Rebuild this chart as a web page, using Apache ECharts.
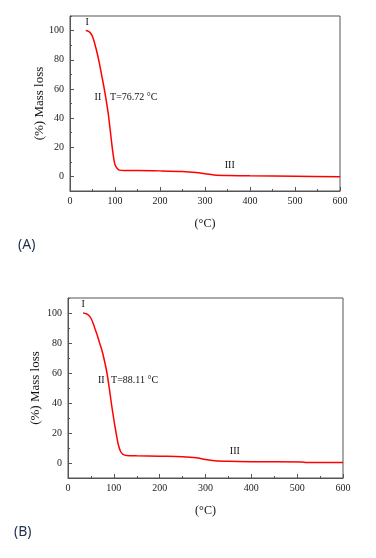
<!DOCTYPE html>
<html>
<head>
<meta charset="utf-8">
<script src="https://cdn.jsdelivr.net/npm/echarts@6/dist/echarts.min.js"></script>
<style>
  html, body { margin: 0; padding: 0; background: #fff; }
  #chart { width: 376px; height: 558px; }
</style>
</head>
<body>
<div id="chart"></div>
<script>
// (A) curve: [temperature °C, mass %]
var curveA = [[35,100],[40,99.6],[45,98.5],[50,96],[55,91],[60,85],[65,78],[70,70],[75,62],[80,53],[85,43],[90,30],
  [95,17],[100,8],[105,5.5],[110,4.3],[120,4],[150,4],[200,3.8],[250,3.4],[280,2.7],[300,1.8],[320,1],[350,0.6],
  [400,0.4],[500,0.1],[600,-0.2]];
// (B) curve
var curveB = [[33,100],[40,99.5],[45,98.5],[50,96.5],[55,93],[60,88.5],[65,84],[70,79],[75,74],[80,67.5],[85,60],
  [90,50],[95,39],[100,29],[105,20],[110,12],[115,7.5],[120,5.8],[128,5],[150,4.8],[200,4.5],[250,4.2],[280,3.5],
  [300,2.3],[320,1.5],[350,1.1],[400,0.9],[510,0.7],[520,0.4],[600,0.4]];
// text notes in data coords: [x, y, text, align]
var notesA = [[38,105.5,'I','center'],[62,54.5,'II','center'],[89,54.5,'T=76.72 °C','left'],[355,7.6,'III','center']];
var notesB = [[33,106,'I','center'],[72.6,55,'II','center'],[94,55,'T=88.11 °C','left'],[364,7.5,'III','center']];
var yTicks = [0, 20, 40, 60, 80, 100];
var yMinorTicks = [-10, 10, 30, 50, 70, 90, 110];
var panelLabels = ['(A)', '(B)'];

var serif = 'Liberation Serif';
var axisColor = '#555';

function xAx(idx) {
  return {
    gridIndex: idx, type: 'value', min: 0, max: 600, interval: 100,
    name: '(°C)', nameLocation: 'middle', nameGap: 27,
    nameTextStyle: { fontFamily: serif, fontSize: 12, color: '#111' },
    axisLine: { onZero: false, lineStyle: { color: axisColor, width: 1 } },
    axisTick: { inside: true, length: 4, lineStyle: { color: axisColor } },
    minorTick: { show: true, splitNumber: 2, length: 2, lineStyle: { color: axisColor } },
    axisLabel: { fontFamily: serif, fontSize: 10, color: '#222', margin: 5 },
    splitLine: { show: false }
  };
}
function yAx(idx, gap) {
  return {
    gridIndex: idx, type: 'value', min: -10, max: 110,
    name: '(%) Mass loss', nameLocation: 'middle', nameGap: gap, nameMoveOverlap: false,
    nameTextStyle: { fontFamily: serif, fontSize: 13, color: '#111' },
    axisLine: { show: true, onZero: false, lineStyle: { color: axisColor, width: 1 } },
    axisTick: { show: true, inside: true, length: 4, customValues: yTicks, lineStyle: { color: axisColor } },
    axisLabel: { fontFamily: serif, fontSize: 10, color: '#222', margin: 6, customValues: yTicks },
    splitLine: { show: false }
  };
}
// overlay axis only for the small in-between ticks
function yMinor(idx) {
  return {
    gridIndex: idx, type: 'value', min: -10, max: 110, position: 'left',
    axisLine: { show: false },
    axisTick: { show: true, inside: true, length: 2, customValues: yMinorTicks, lineStyle: { color: axisColor } },
    axisLabel: { show: false },
    splitLine: { show: false }
  };
}
function notes(arr) {
  return arr.map(function (n) {
    return {
      coord: [n[0], n[1]], symbol: 'circle', symbolSize: 0,
      label: { show: true, formatter: n[2], position: 'inside', align: n[3],
        fontFamily: serif, fontSize: 10, color: '#111' }
    };
  });
}
function curve(idx, data, nts) {
  return {
    type: 'line', xAxisIndex: idx, yAxisIndex: idx, data: data,
    smooth: 0.3, showSymbol: false, silent: true,
    lineStyle: { color: '#ff0000', width: 1.5 },
    markPoint: { silent: true, data: notes(nts) }
  };
}

var myChart = echarts.init(document.getElementById('chart'), null, { renderer: 'canvas' });
myChart.setOption({
  animation: false,
  grid: [
    { left: 70, right: 36, top: 16, height: 175, show: true, borderColor: axisColor, borderWidth: 1 },
    { left: 68, right: 33, top: 298, height: 180, show: true, borderColor: axisColor, borderWidth: 1 }
  ],
  xAxis: [xAx(0), xAx(1)],
  yAxis: [yAx(0, 24), yAx(1, 26), yMinor(0), yMinor(1)],
  series: [curve(0, curveA, notesA), curve(1, curveB, notesB)],
  graphic: [
    { type: 'text', left: 18, top: 238, style: { text: panelLabels[0], fontFamily: 'Noto Sans', fontSize: 14, fill: '#1e2f4f' } },
    { type: 'text', left: 14, top: 525, style: { text: panelLabels[1], fontFamily: 'Noto Sans', fontSize: 14, fill: '#1e2f4f' } }
  ]
});
window.addEventListener('resize', function () { myChart.resize(); });
</script>
</body>
</html>
